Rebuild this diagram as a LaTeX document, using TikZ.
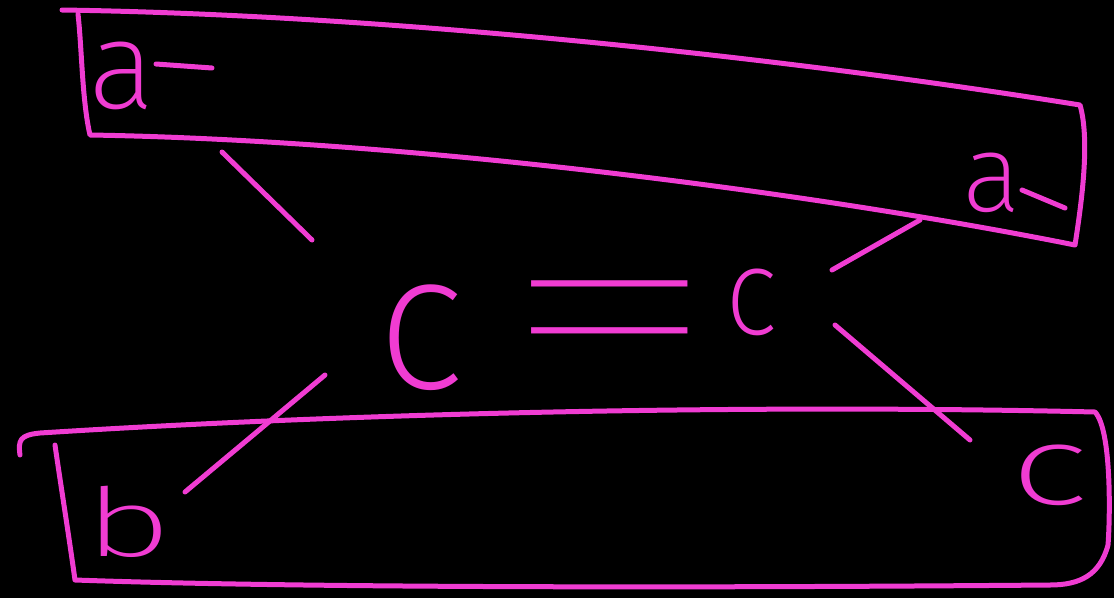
\documentclass[tikz,border=0pt]{standalone}
\usepackage{fontspec}
\setmainfont{Fira Sans}[UprightFont=* ExtraLight]
\newfontfamily\eqfont{Fira Sans}[UprightFont=* Thin]
\definecolor{ink}{RGB}{240,60,210}
\begin{document}
\begin{tikzpicture}[x=1pt,y=-1pt,
  pen/.style={draw=ink,line width=5pt,line cap=round,line join=round},
  letter/.style={text=ink,inner sep=0pt,font=\fontsize{#1}{#1}\selectfont},
  letter/.default=100]
\useasboundingbox (0,0) rectangle (1114,598);
\fill[black] (0,0) rectangle (1114,598);
% top box
\draw[pen] (62,10) .. controls (400,15) and (800,60) .. (1080,105)
  .. controls (1090,140) and (1082,200) .. (1075,245)
  .. controls (800,190) and (400,140) .. (90,135)
  .. controls (82,100) and (82,50) .. (78,14);
% bottom box
\draw[pen] (20,455) .. controls (18,440) and (20,435) .. (40,433)
  .. controls (400,410) and (800,405) .. (1095,412)
  .. controls (1112,430) and (1110,520) .. (1108,545)
  .. controls (1100,575) and (1080,585) .. (1050,585)
  .. controls (700,588) and (300,588) .. (75,580)
  .. controls (68,530) and (60,480) .. (55,445);
% letters
\node[letter=125] (a1) at (122,76) {a};
\coordinate (a1t) at (212,68);
\draw[pen] (156,64) -- (a1t);
\node[letter=110] (a2) at (992,183) {a};
\coordinate (a2t) at (1065,208);
\draw[pen] (1022,190) -- (a2t);
\node[letter=95,xscale=1.6] (b) at (128,522) {b};
\node[letter=112,xscale=1.5] (c3) at (1050,475) {c};
\node[letter=150,xscale=1.25,yscale=1.3] (c1) at (421,338) {c};
\node[letter=112,yscale=1.1] (c2) at (752,302) {c};
\node[text=ink,inner sep=0pt,font=\eqfont\fontsize{297}{297}\selectfont,xscale=1.6] (eq) at (610,343) {=};
% connectors
\coordinate (l1a) at (222,152); \coordinate (l1b) at (312,240);
\coordinate (l2a) at (325,375); \coordinate (l2b) at (185,492);
\coordinate (l3a) at (920,220); \coordinate (l3b) at (832,270);
\coordinate (l4a) at (835,325); \coordinate (l4b) at (970,440);
\draw[pen] (l1a) -- (l1b);
\draw[pen] (l2a) -- (l2b);
\draw[pen] (l3a) -- (l3b);
\draw[pen] (l4a) -- (l4b);
\end{tikzpicture}
\end{document}
